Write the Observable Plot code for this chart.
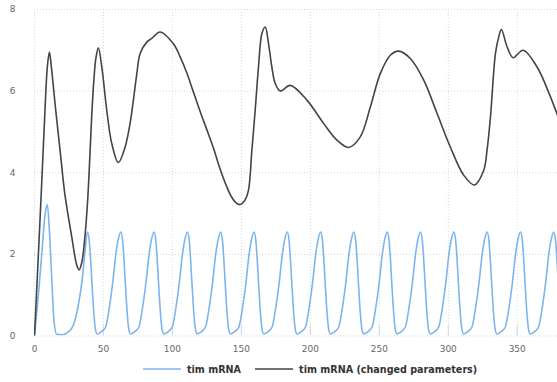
<!DOCTYPE html>
<html>
<head>
<meta charset="utf-8">
<script src="https://cdn.jsdelivr.net/npm/d3@7"></script>
<script src="https://cdn.jsdelivr.net/npm/@observablehq/plot@0.6"></script>
<style>
  html, body { margin: 0; padding: 0; background: #ffffff; }
  #chart { width: 557px; }
  #legend { display: flex; align-items: center; height: 26px; padding-left: 143px;
            font-family: "DejaVu Sans", sans-serif; font-weight: bold; font-size: 9.6px; color: #333333; }
  .item { display: flex; align-items: center; }
  .item svg { margin-right: 6px; }
  .item + .item { margin-left: 14px; }
</style>
</head>
<body>
<div id="chart"></div>
<script>
// ---- data ----
const seriesNames = ["tim mRNA", "tim mRNA (changed parameters)"];
const seriesColors = ["#7cb5ec", "#434348"];
const xTicks = [0, 50, 100, 150, 200, 250, 300, 350];
const yTicks = [0, 2, 4, 6, 8];

const timDays = [0, 2.8, 5.2, 7.6, 9.3, 10.7, 12.5, 14.2, 16.1, 20, 24.5, 28.2, 31.8, 34.7, 36.6, 38.4, 39.7, 40.6, 41.7, 42.9, 44.2, 45.4,
  48.3, 51.6, 53.8, 56.8, 58.9, 60.7, 62.6, 63.9, 64.8, 65.9, 67.1, 68.4, 69.6,
  72.4, 75.7, 77.9, 80.9, 83.0, 84.8, 86.7, 88.0, 88.9, 90.0, 91.2, 92.5, 93.7,
  96.6, 99.9, 102.1, 105.1, 107.2, 109.0, 110.9, 112.2, 113.1, 114.2, 115.4, 116.7, 117.9,
  120.7, 124.0, 126.2, 129.2, 131.3, 133.1, 135.0, 136.3, 137.2, 138.3, 139.5, 140.8, 142.0,
  144.9, 148.2, 150.4, 153.4, 155.5, 157.3, 159.2, 160.5, 161.4, 162.5, 163.7, 165.0, 166.2,
  169.0, 172.3, 174.5, 177.5, 179.6, 181.4, 183.3, 184.6, 185.5, 186.6, 187.8, 189.1, 190.3,
  193.2, 196.5, 198.7, 201.7, 203.8, 205.6, 207.5, 208.8, 209.7, 210.8, 212.0, 213.3, 214.5,
  217.3, 220.6, 222.8, 225.8, 227.9, 229.7, 231.6, 232.9, 233.8, 234.9, 236.1, 237.4, 238.6,
  241.5, 244.8, 247.0, 250.0, 252.1, 253.9, 255.8, 257.1, 258.0, 259.1, 260.3, 261.6, 262.8,
  265.6, 268.9, 271.1, 274.1, 276.2, 278.0, 279.9, 281.2, 282.1, 283.2, 284.4, 285.7, 286.9,
  289.8, 293.1, 295.3, 298.3, 300.4, 302.2, 304.1, 305.4, 306.3, 307.4, 308.6, 309.9, 311.1,
  313.9, 317.2, 319.4, 322.4, 324.5, 326.3, 328.2, 329.5, 330.4, 331.5, 332.7, 334.0, 335.2,
  338.1, 341.4, 343.6, 346.6, 348.7, 350.5, 352.4, 353.7, 354.6, 355.7, 356.9, 358.2, 359.4,
  362.2, 365.5, 367.7, 370.7, 372.8, 374.6, 376.5, 377.8, 378.7, 379.8];

const timLevels = [0, 1.0, 1.98, 2.96, 3.22, 2.64, 1.41, 0.35, 0.04, 0.03, 0.1, 0.27, 0.76, 1.41, 2.06, 2.55, 2.33, 1.92, 1.27, 0.62, 0.16, 0.05,
  0.10, 0.22, 0.6, 1.33, 1.98, 2.36, 2.55, 2.33, 1.92, 1.27, 0.62, 0.16, 0.05,
  0.10, 0.22, 0.6, 1.33, 1.98, 2.36, 2.55, 2.33, 1.92, 1.27, 0.62, 0.16, 0.05,
  0.10, 0.22, 0.6, 1.33, 1.98, 2.36, 2.55, 2.33, 1.92, 1.27, 0.62, 0.16, 0.05,
  0.10, 0.22, 0.6, 1.33, 1.98, 2.36, 2.55, 2.33, 1.92, 1.27, 0.62, 0.16, 0.05,
  0.10, 0.22, 0.6, 1.33, 1.98, 2.36, 2.55, 2.33, 1.92, 1.27, 0.62, 0.16, 0.05,
  0.10, 0.22, 0.6, 1.33, 1.98, 2.36, 2.55, 2.33, 1.92, 1.27, 0.62, 0.16, 0.05,
  0.10, 0.22, 0.6, 1.33, 1.98, 2.36, 2.55, 2.33, 1.92, 1.27, 0.62, 0.16, 0.05,
  0.10, 0.22, 0.6, 1.33, 1.98, 2.36, 2.55, 2.33, 1.92, 1.27, 0.62, 0.16, 0.05,
  0.10, 0.22, 0.6, 1.33, 1.98, 2.36, 2.55, 2.33, 1.92, 1.27, 0.62, 0.16, 0.05,
  0.10, 0.22, 0.6, 1.33, 1.98, 2.36, 2.55, 2.33, 1.92, 1.27, 0.62, 0.16, 0.05,
  0.10, 0.22, 0.6, 1.33, 1.98, 2.36, 2.55, 2.33, 1.92, 1.27, 0.62, 0.16, 0.05,
  0.10, 0.22, 0.6, 1.33, 1.98, 2.36, 2.55, 2.33, 1.92, 1.27, 0.62, 0.16, 0.05,
  0.10, 0.22, 0.6, 1.33, 1.98, 2.36, 2.55, 2.33, 1.92, 1.27, 0.62, 0.16, 0.05,
  0.10, 0.22, 0.6, 1.33, 1.98, 2.36, 2.55, 2.33, 1.92, 1.27];

const changedDays = [0, 2.4, 4.9, 7.6, 9.3, 10.8, 12.2, 15.4, 18.8, 22.1, 27, 30.6, 32.3, 34.3, 36.6,
  38.5, 40, 41.5, 43, 44.5, 46.3, 48.8, 52.4, 56, 60.8, 65.7, 69.3, 71.7, 74.2, 76.6,
  81.4, 85, 91.1, 100.7, 105.6, 110.4, 115, 120.1, 125, 129.8, 134.5, 139.5, 143, 146, 149,
  152, 155, 157.6, 160, 162.4, 164.9, 167.3, 169.7, 172.1, 174.5, 178.2, 185.4, 197.5, 209.6, 219.3,
  227.7, 236.2, 243.5, 250.7, 258, 264, 272.5, 282.2, 291.9, 301.5, 311.2, 319, 325.7, 328.1, 330.6,
  334.2, 336.6, 338.5, 342.7, 347, 354.3, 364.4, 374.1, 379.2];

const changedLevels = [0, 1.7, 3.5, 5.53, 6.59, 6.96, 6.6, 5.53, 4.47, 3.45, 2.43, 1.74, 1.62, 1.8, 2.45,
  3.3, 4.3, 5.4, 6.25, 6.8, 7.06, 6.59, 5.53, 4.72, 4.25, 4.63, 5.21, 5.78, 6.43, 6.92,
  7.2, 7.29, 7.45, 7.16, 6.84, 6.45, 6.0, 5.5, 5.05, 4.6, 4.1, 3.65, 3.4, 3.27, 3.22,
  3.3, 3.55, 4.55, 5.53, 6.59, 7.41, 7.57, 7.16, 6.59, 6.19, 6.0, 6.14, 5.78, 5.21, 4.8,
  4.62, 4.88, 5.61, 6.43, 6.88, 6.98, 6.8, 6.27, 5.45, 4.63, 3.94, 3.70, 4.06, 4.55, 5.37,
  6.92, 7.33, 7.51, 7.08, 6.82, 7.0, 6.59, 5.86, 5.41];

// ---- tables for Plot ----
const tim = timDays.map((d, i) => ({day: d, level: timLevels[i]}));
const changed = changedDays.map((d, i) => ({day: d, level: changedLevels[i]}));

const W = 557, H = 356, mTop = 9, mBottom = 20.5, mLeft = 34, mRight = 0;
const plotH = H - mTop - mBottom;

const chart = Plot.plot({
  width: W, height: H,
  marginTop: mTop, marginBottom: mBottom, marginLeft: mLeft, marginRight: mRight,
  x: {domain: [0, 379.2]},
  y: {domain: [0, 8]},
  style: {fontFamily: "DejaVu Sans, sans-serif", fontSize: "9px", color: "#666666", background: "#ffffff", overflow: "visible"},
  marks: [
    Plot.gridY(yTicks, {stroke: "#d6d6d6", strokeOpacity: 1, strokeDasharray: "1,2"}),
    Plot.gridX(xTicks, {stroke: "#d6d6d6", strokeOpacity: 1, strokeDasharray: "1,2"}),
    Plot.tickX(xTicks, {x: d => d, stroke: "#ccd6eb", strokeWidth: 1, insetTop: plotH - 10}),
    Plot.axisX(xTicks, {tickSize: 0, tickPadding: 10, fill: "#666666", label: null}),
    Plot.axisY(yTicks, {tickSize: 0, tickPadding: 19, fill: "#666666", label: null}),
    Plot.line(tim, {x: "day", y: "level", stroke: seriesColors[0], strokeWidth: 1.6, curve: "monotone-x", clip: true}),
    Plot.line(changed, {x: "day", y: "level", stroke: seriesColors[1], strokeWidth: 1.6, curve: "catmull-rom", clip: true})
  ]
});
document.getElementById("chart").appendChild(chart);

// ---- legend ----
const legend = document.createElement("div");
legend.id = "legend";
seriesNames.forEach((name, i) => {
  const item = document.createElement("div");
  item.className = "item";
  item.innerHTML = `<svg width="38" height="4"><line x1="0" x2="38" y1="2" y2="2" stroke="${seriesColors[i]}" stroke-width="1.6"/></svg><span>${name}</span>`;
  legend.appendChild(item);
});
document.getElementById("chart").appendChild(legend);
</script>
</body>
</html>
